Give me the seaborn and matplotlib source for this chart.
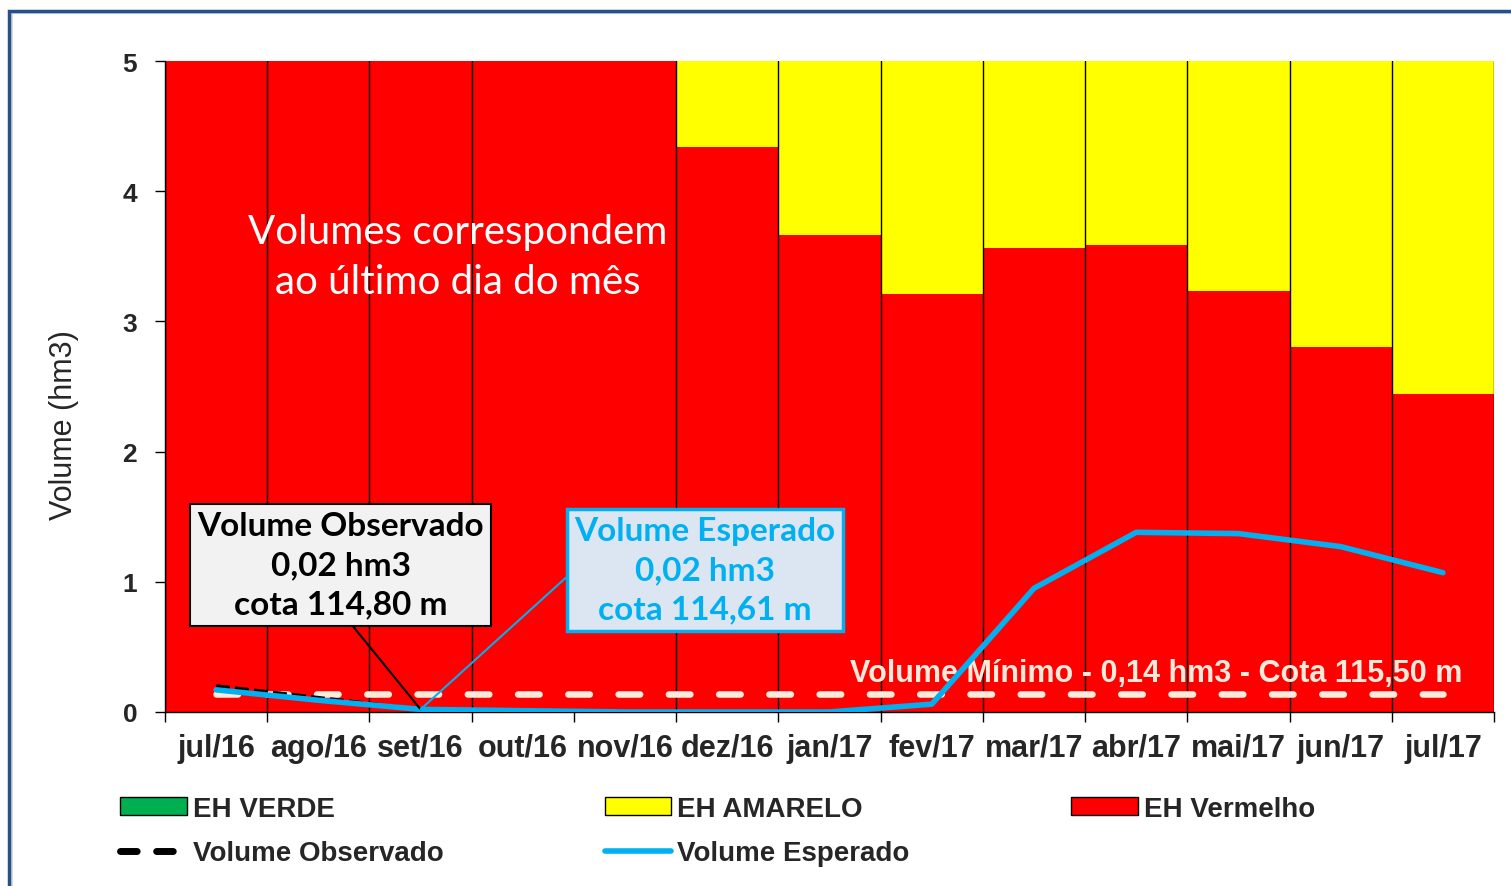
import numpy as np
import seaborn as sns
import matplotlib.pyplot as plt
from matplotlib.lines import Line2D
from matplotlib.patches import Patch, Rectangle

meses = ["jul/16", "ago/16", "set/16", "out/16", "nov/16", "dez/16", "jan/17",
         "fev/17", "mar/17", "abr/17", "mai/17", "jun/17", "jul/17"]
# topo de cada faixa (hm3)
eh_amarelo = [5.0, 5.0, 5.0, 5.0, 5.0, 5.0, 5.0, 5.0, 5.0, 5.0, 5.0, 5.0, 5.0]
eh_vermelho = [5.0, 5.0, 5.0, 5.0, 5.0, 4.34, 3.66, 3.21, 3.56, 3.59, 3.23, 2.80, 2.44]
vol_esperado = [0.17, 0.09, 0.02, 0.01, 0.0, 0.0, 0.0, 0.06, 0.95, 1.38, 1.37, 1.27, 1.07]
vol_observado = [0.20, 0.11, 0.02]
vol_minimo = 0.14

VERDE = "#00B050"
AMARELO = "#FFFF00"
VERMELHO = "#FF0000"
AZUL = "#00B0F0"
CREME = "#FDEADA"

sns.set_style("white")
plt.rcParams["font.family"] = ["Liberation Sans", "DejaVu Sans"]
plt.rcParams["font.weight"] = "bold"

fig = plt.figure(figsize=(15.11, 8.87), dpi=100)
ax = fig.add_axes([0.1092, 0.1962, 0.8796, 0.7339])

sns.barplot(x=meses, y=eh_amarelo, color=AMARELO, width=1, saturation=1,
            linewidth=0, ax=ax)
sns.barplot(x=meses, y=eh_vermelho, color=VERMELHO, width=1, saturation=1,
            linewidth=0, ax=ax)

sns.lineplot(x=meses, y=[vol_minimo] * len(meses), color=CREME, lw=4.7,
             linestyle=(0, (3.3, 4.4)), dash_capstyle="round", zorder=3, ax=ax)
sns.lineplot(x=meses[:len(vol_observado)], y=vol_observado, color="black", lw=2.5,
             linestyle=(0, (4, 1.5)), zorder=4, ax=ax)
sns.lineplot(x=meses, y=vol_esperado, color=AZUL, lw=4, solid_capstyle="round",
             zorder=5, ax=ax)

n = len(meses)
ax.set_xlim(-0.5, n - 0.5)
ax.set_ylim(0, 5)
ax.set_xticks(np.arange(n + 1) - 0.5)
ax.set_xticklabels([])
ax.set_xticks(np.arange(n), minor=True)
ax.set_xticklabels(meses, minor=True, fontsize=22, fontweight="bold")
ax.tick_params(axis="x", which="major", direction="out", length=7, width=1,
               color="black", bottom=True)
ax.tick_params(axis="x", which="minor", length=0, pad=15)
ax.set_yticks(range(6))
ax.set_yticklabels(range(6), fontsize=19, fontweight="bold")
ax.tick_params(axis="y", direction="out", length=7, width=1, color="black",
               left=True, pad=13)
ax.set_xlabel("")
ax.set_ylabel("Volume (hm3)", fontsize=22, fontweight="normal")
ax.yaxis.set_label_coords(-0.065, 0.442)

ax.grid(axis="x", which="major", color="black", lw=1)
ax.grid(axis="y", visible=False)
ax.set_axisbelow(False)
ax.xaxis.get_major_ticks()[4].gridline.set_visible(False)
for s in ["top", "right"]:
    ax.spines[s].set_visible(False)
for s in ["left", "bottom"]:
    ax.spines[s].set_color("black")
    ax.spines[s].set_linewidth(1)

ax.text(2.36, 3.5, "Volumes correspondem\nao último dia do mês", ha="center",
        va="center", color="white", fontsize=29, fontweight="normal",
        family="Lato", linespacing=1.45)
ax.text(6.2, 0.30, "Volume Mínimo - 0,14 hm3 - Cota 115,50 m", ha="left",
        va="center", color=CREME, fontsize=22, fontweight="bold")

i_set = meses.index("set/16")
ax.annotate("Volume Observado\n0,02 hm3\ncota 114,80 m",
            xy=(i_set, vol_observado[i_set]), xytext=(1.22, 1.13),
            ha="center", va="center", fontsize=24, fontweight="bold",
            family="Lato", color="black", linespacing=1.42, zorder=6,
            bbox=dict(boxstyle="square,pad=0.22", fc="#F2F2F2", ec="black", lw=1.5),
            arrowprops=dict(arrowstyle="-", color="black", lw=1.5,
                            shrinkA=0, shrinkB=0, relpos=(0.52, 0)))
ax.annotate("Volume Esperado\n0,02 hm3\ncota 114,61 m",
            xy=(i_set, vol_esperado[i_set]), xytext=(4.78, 1.09),
            ha="center", va="center", fontsize=24, fontweight="bold",
            family="Lato", color=AZUL, linespacing=1.42, zorder=6,
            bbox=dict(boxstyle="square,pad=0.22", fc="#DCE6F2", ec=AZUL, lw=2.5),
            arrowprops=dict(arrowstyle="-", color=AZUL, lw=1.5,
                            shrinkA=0, shrinkB=0, relpos=(0, 0.5)))

handles = [
    Patch(facecolor=VERDE, edgecolor="black", lw=1, label="EH VERDE"),
    Line2D([], [], color="black", lw=5, linestyle=(0, (2.4, 2.8)),
           dash_capstyle="round", label="Volume Observado"),
    Patch(facecolor=AMARELO, edgecolor="black", lw=1, label="EH AMARELO"),
    Line2D([], [], color=AZUL, lw=4, solid_capstyle="round", label="Volume Esperado"),
    Patch(facecolor=VERMELHO, edgecolor="black", lw=1, label="EH Vermelho"),
]
fig.legend(handles=handles, ncol=3, loc="upper left", bbox_to_anchor=(0.0794, 0.102),
           frameon=False, prop=dict(size=20, weight="bold"), handlelength=2.4,
           handleheight=0.6, handletextpad=0.22, columnspacing=5.8,
           labelspacing=0.66, borderpad=0, borderaxespad=0)

fig.patches.append(Rectangle((11.5 / 1511, -0.1), 1.2, 1.1 - 14 / 887,
                             transform=fig.transFigure, fill=False,
                             edgecolor="#D9D9D9", lw=1.5))
fig.patches.append(Rectangle((9 / 1511, -0.1), 1.2, 1.1 - 11.5 / 887,
                             transform=fig.transFigure, fill=False,
                             edgecolor="#25508A", lw=2.5))

fig.savefig("out.png", dpi=100)
